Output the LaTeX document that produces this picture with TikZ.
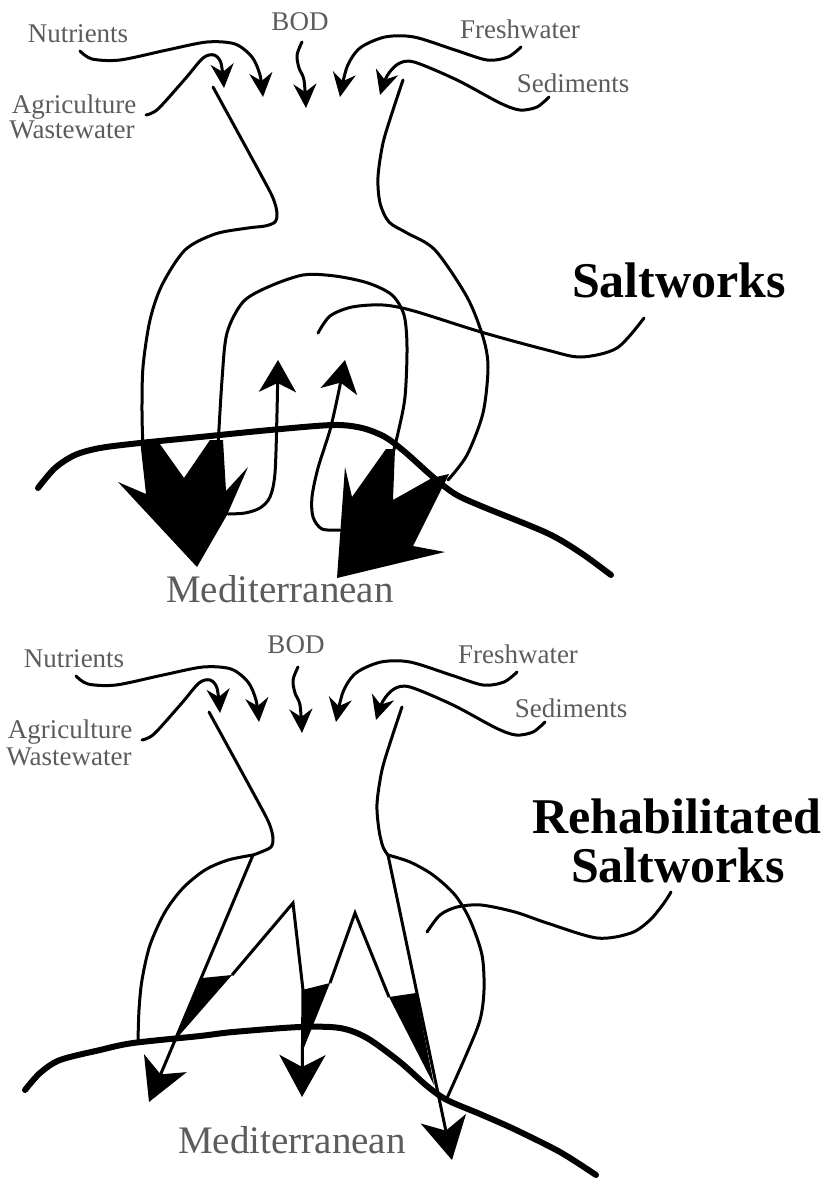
\documentclass[tikz,border=0pt]{standalone}
\usepackage{fontspec}
\setmainfont{Liberation Serif}
\usetikzlibrary{arrows.meta}
\definecolor{lbl}{gray}{0.36}
\newcommand\drawinflows{%
  \draw[flow,smalltip] plot[smooth] coordinates {(80,51) (92,59) (120,60) (167,50) (207,42) (235,44) (252,57) (260,75) (263,97)};
  \draw[flow,smalltip] plot[smooth] coordinates {(146,115) (158,109) (185,79) (203,58) (214,55) (221,63) (224,88)};
  \draw[flow,smalltip] plot[smooth] coordinates {(302,42) (297,55) (299,68) (304,80) (306,108)};
  \draw[flow,smalltip] plot[smooth] coordinates {(521,47) (508,57) (487,60) (455,50) (414,37) (385,37) (360,48) (347,67) (340,97)};
  \draw[flow,smalltip] plot[smooth] coordinates {(549,97) (537,107) (520,110) (500,103) (457,80) (414,62) (398,64) (387,76) (380,95)};
}
\begin{document}
\begin{tikzpicture}[x=1pt,y=-1pt,
  flow/.style={line width=3pt,line cap=round,line join=round},
  coast/.style={line width=6pt,line cap=round,line join=round},
  smalltip/.style={-{Stealth[length=24pt,width=23pt,inset=8pt]}},
  uptip/.style={-{Stealth[length=32pt,width=37pt,inset=9pt]}},
  bigtip/.style={-{Stealth[length=42pt,width=46pt,inset=12pt]}},
  lab/.style={text=lbl,font=\fontsize{27}{30}\selectfont,inner sep=0pt,anchor=base},
  med/.style={text=lbl,font=\fontsize{39}{42}\selectfont,inner sep=0pt,anchor=base},
  title/.style={font=\bfseries\fontsize{50}{54}\selectfont,inner sep=0pt,anchor=base}
]
\useasboundingbox[fill=white] (0,0) rectangle (828,1179);

% ---------------- top panel ----------------
\drawinflows
% coastline
\draw[coast] plot[smooth] coordinates {(38,488) (55,468) (75,455) (100,448) (140,443) (200,437) (270,430) (333,425) (362,428) (385,437) (405,452) (433,477) (455,494) (481,506) (547,533) (581,553) (611,575)};
% left wall
\draw[flow] plot[smooth] coordinates {(213,87) (260,173) (273,198) (277,213) (275,222) (265,226) (248,228) (215,234) (185,250) (162,285) (150,320) (143,367) (142,413) (143,447)};
% right wall
\draw[flow] plot[smooth] coordinates {(403,80) (393,110) (383,143) (378,177) (380,203) (389,222) (407,233) (435,250) (467,297) (483,337) (488,367) (483,413) (467,455) (448,480)};
% inner loop
\draw[flow] plot[smooth] coordinates {(218,447) (222,380) (227,333) (243,302) (268,287) (303,275) (335,276) (368,283) (392,295) (404,315) (407,347) (405,397) (398,433) (390,465)};
% up arrows
\draw[flow,uptip] plot[smooth] coordinates {(228,514) (245,513) (260,508) (270,497) (275,473) (277,413) (278,360)};
\draw[flow,uptip] plot[smooth] coordinates {(340,530) (322,529) (313,517) (312,497) (318,468) (330,430) (338,395) (345,360)};
% big arrows
\fill (118,482) -- (146,494) -- (140,440) -- (157,440) -- (184,478) -- (210,440) -- (223,440) -- (226,491) -- (248,467) -- (227,515) -- (197,567) -- cycle;
\fill (345,467) -- (352,497) -- (386,449) -- (395,449) -- (393,500) -- (432,478) -- (449,474) -- (413,546) -- (445,552) -- (337,578) -- cycle;
% callout
\draw[flow] plot[smooth] coordinates {(318,333) (330,316) (352,307) (383,305) (414,311) (481,332) (547,350) (581,357) (617,348) (644,318)};

\node[lab] (nut1) at (78,42) {Nutrients};
\node[lab] (bod1) at (300,30) {BOD};
\node[lab] (fw1) at (520,38) {Freshwater};
\node[lab] (sed1) at (573,92) {Sediments};
\node[lab] (agr1) at (74,113) {Agriculture};
\node[lab] (ww1) at (72,138) {Wastewater};
\node[title] (salt1) at (679,297) {Saltworks};
\node[med] (med1) at (280,602) {Mediterranean};

% ---------------- bottom panel ----------------
\begin{scope}[shift={(-4,625)}]
\drawinflows
\end{scope}
\draw[coast] plot[smooth] coordinates {(25,1090) (40,1073) (60,1060) (100,1050) (133,1043) (200,1036) (233,1032) (300,1027) (340,1028) (367,1038) (400,1062) (427,1086) (447,1100) (480,1114) (514,1129) (560,1152) (596,1175)};
% left wall and branches
\draw[flow] plot[smooth] coordinates {(209,712) (256,798) (269,823) (273,838) (271,847) (261,852) (253,855)};
\draw[flow] plot[smooth] coordinates {(253,855) (228,860) (205,870) (183,888) (165,912) (150,945) (142,980) (139,1010) (138,1042)};
\draw[flow,bigtip] (253,855) -- (149,1102);
% right wall and branches
\draw[flow] plot[smooth] coordinates {(402,707) (392,737) (382,770) (377,804) (379,830) (383,847) (388,855)};
\draw[flow] plot[smooth] coordinates {(388,855) (410,862) (433,875) (455,895) (470,920) (482,955) (484,990) (480,1020) (467,1053) (447,1098)};
\draw[flow,bigtip] (388,855) -- (452,1160);
% zigzag
\draw[flow,line join=miter,line cap=butt] (232,975) -- (293,903) -- (303,990);
\draw[flow,bigtip] (303,990) -- (302,1097);
\draw[flow,line join=miter,line cap=butt] (330,983) -- (355,913) -- (389,997);
% wedges
\fill (202,978) -- (232,975) -- (177,1038) -- cycle;
\fill (302,990) -- (330,983) -- (303,1050) -- cycle;
\fill (389,997) -- (416,993) -- (434,1085) -- cycle;
% callout
\draw[flow] plot[smooth] coordinates {(427,932) (440,915) (457,907) (481,905) (515,912) (547,923) (597,938) (631,933) (650,920) (664,903) (671,892)};

\node[lab] (nut2) at (74,667) {Nutrients};
\node[lab] (bod2) at (296,653) {BOD};
\node[lab] (fw2) at (518,663) {Freshwater};
\node[lab] (sed2) at (571,717) {Sediments};
\node[lab] (agr2) at (70,738) {Agriculture};
\node[lab] (ww2) at (69,765) {Wastewater};
\node[title] (reh) at (677,833) {Rehabilitated};
\node[title] (salt2) at (678,882) {Saltworks};
\node[med] (med2) at (292,1153) {Mediterranean};
\end{tikzpicture}
\end{document}
